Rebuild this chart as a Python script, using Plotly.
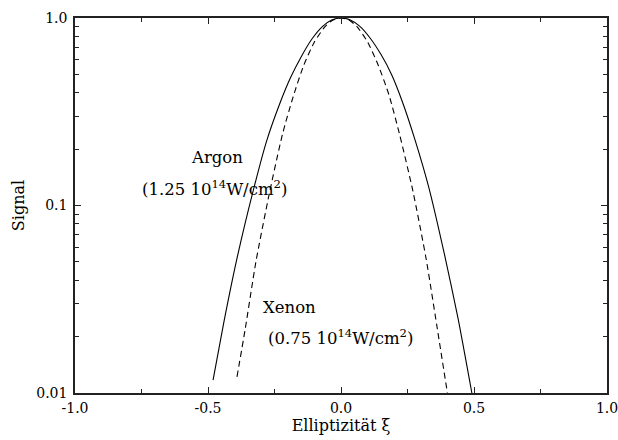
import plotly.graph_objects as go

# Argon signal vs ellipticity (solid curve)
argon_xi = [-0.481, -0.44, -0.39, -0.33, -0.28, -0.23, -0.19, -0.15, -0.11, -0.07, -0.035, 0.0,
            0.035, 0.07, 0.11, 0.15, 0.19, 0.23, 0.28, 0.33, 0.39, 0.44, 0.492]
argon_sig = [0.0117, 0.024, 0.053, 0.12, 0.22, 0.35, 0.48, 0.62, 0.77, 0.90, 0.975, 1.0,
             0.976, 0.905, 0.78, 0.64, 0.50, 0.36, 0.22, 0.125, 0.054, 0.025, 0.01]

# Xenon signal vs ellipticity (dashed curve)
xenon_xi = [-0.391, -0.36, -0.32, -0.27, -0.22, -0.18, -0.14, -0.10, -0.06, -0.03, 0.0,
            0.03, 0.06, 0.10, 0.14, 0.18, 0.22, 0.27, 0.32, 0.36, 0.40]
xenon_sig = [0.0122, 0.022, 0.05, 0.115, 0.24, 0.38, 0.56, 0.745, 0.90, 0.975, 1.0,
             0.975, 0.90, 0.745, 0.56, 0.39, 0.24, 0.12, 0.052, 0.023, 0.01]

x_ticks = [-1.0, -0.5, 0.0, 0.5, 1.0]
x_ticktext = ["-1.0", "-0.5", "0.0", "0.5", "1.0"]
x_minor = [-0.75, -0.25, 0.25, 0.75]
y_ticks = [0.01, 0.1, 1.0]
y_ticktext = ["0.01", "0.1", "1.0"]
y_minor = [m * d for d in (0.01, 0.1) for m in range(2, 10)]

serif = "DejaVu Serif"

fig = go.Figure()
fig.add_trace(go.Scatter(x=argon_xi, y=argon_sig, mode="lines",
                         line=dict(color="black", width=1.1, shape="spline", smoothing=0.6)))
fig.add_trace(go.Scatter(x=xenon_xi, y=xenon_sig, mode="lines",
                         line=dict(color="black", width=1.1, dash="6px,4px", shape="spline", smoothing=0.6)))

axis_common = dict(showline=True, linecolor="#222", linewidth=1.5, mirror="ticks",
                   ticks="inside", ticklen=6, tickcolor="#222", tickwidth=1,
                   showgrid=False, zeroline=False, automargin=False,
                   ticklabeloverflow="allow",
                   tickfont=dict(family=serif, size=14, color="black"))

fig.update_xaxes(range=[-1.0, 1.0], tickmode="array", tickvals=x_ticks, ticktext=x_ticktext,
                 minor=dict(tickmode="array", tickvals=x_minor, ticks="inside", ticklen=4,
                            tickcolor="#222", showgrid=False),
                 title=dict(text="Elliptizität ξ", font=dict(family=serif, size=16, color="black"),
                            standoff=3),
                 ticklabelstandoff=1,
                 **axis_common)
fig.update_yaxes(type="log", range=[-2, 0], tickmode="array", tickvals=y_ticks, ticktext=y_ticktext,
                 minor=dict(tickmode="array", tickvals=y_minor, ticks="inside", ticklen=4,
                            tickcolor="#222", showgrid=False),
                 title=dict(text="Signal", font=dict(family=serif, size=16, color="black"),
                            standoff=8),
                 ticklabelstandoff=3,
                 **axis_common)

W, H = 618, 440
L, R, T, B = 75, 11, 18, 47
ann_font = dict(family=serif, size=16.5, color="black")
annotations = [
    ("Argon", 217, 157),
    ("(1.25 10<sup>14</sup>W/cm<sup>2</sup>)", 214, 188),
    ("Xenon", 289, 307),
    ("(0.75 10<sup>14</sup>W/cm<sup>2</sup>)", 340, 337),
]
for text, px, py in annotations:
    fig.add_annotation(x=(px - L) / (W - L - R), y=1 - (py - T) / (H - T - B),
                       xref="x domain", yref="y domain", text=text, showarrow=False,
                       font=ann_font, xanchor="center", yanchor="middle")

fig.update_layout(width=W, height=H, margin=dict(l=L, r=R, t=T, b=B),
                  paper_bgcolor="white", plot_bgcolor="white", showlegend=False)

fig.write_html("out.html")
